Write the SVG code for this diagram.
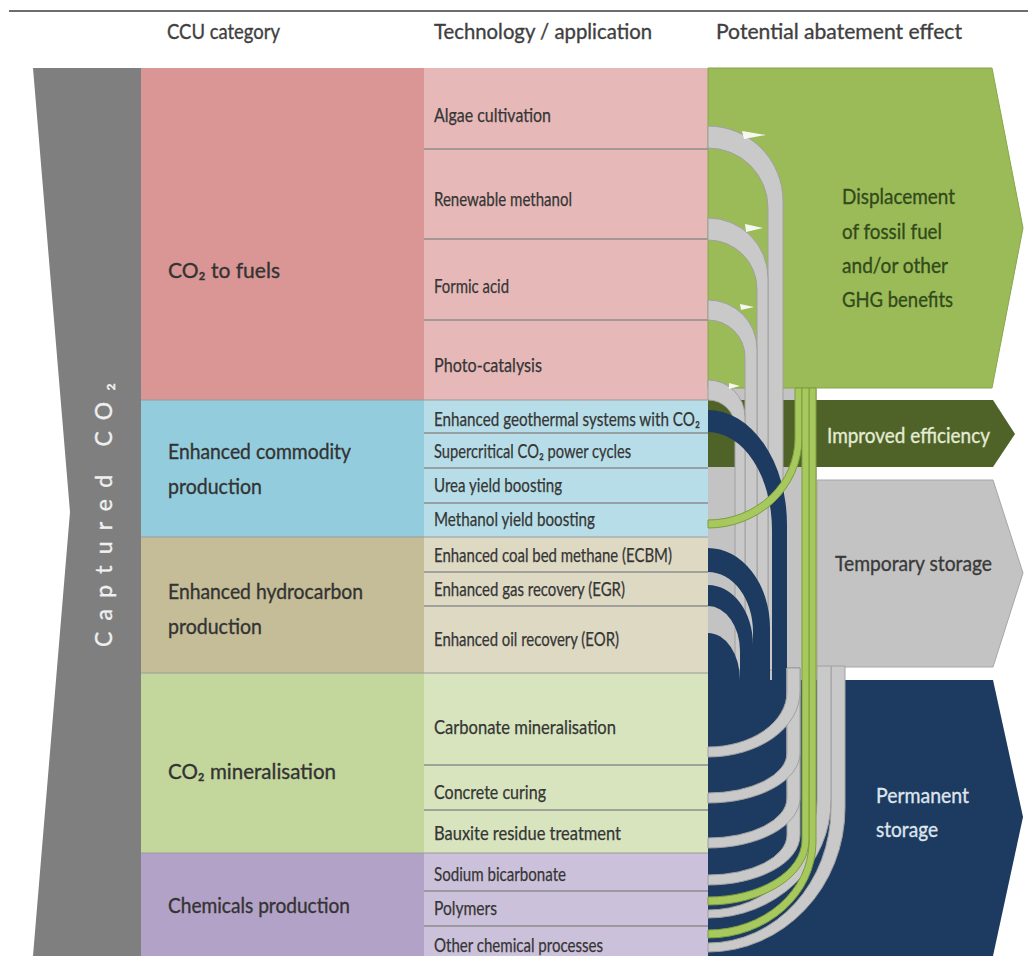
<svg xmlns="http://www.w3.org/2000/svg" width="1028" height="956" viewBox="0 0 1028 956">
  <style>
    text { font-family: Lato, "Liberation Sans", "DejaVu Sans", sans-serif; stroke-width: 0.35px; }
    .hdr { font-size: 21px; fill: #3f3f3f; stroke: #3f3f3f; }
    .cat { font-size: 22px; fill: #333333; stroke: #333333; }
    .tech { font-size: 19px; fill: #353535; stroke: #353535; stroke-width: 0.25px; }
    .out { font-size: 22px; }
    .sep { stroke: #8c8c8c; stroke-width: 1.3; }
    .catsep { stroke: #9a9a9a; stroke-width: 1; }
    .band-gray { fill: #c9c9c9; stroke: #a0a0a0; stroke-width: 1; }
    .band-navy { fill: #1d3a60; }
    .band-green { fill: #a6c85d; stroke: #7d9c3e; stroke-width: 1; }
    .glint { fill: #ffffff; opacity: 0.9; }
  </style>

  <!-- top rule -->
  <line x1="9" y1="11" x2="1028" y2="11" stroke="#3c3c3c" stroke-width="1.6"/>

  <!-- column headers -->
  <g id="headers">
    <text class="hdr" x="167" y="39" textLength="113" lengthAdjust="spacingAndGlyphs">CCU category</text>
    <text class="hdr" x="434" y="39" textLength="218" lengthAdjust="spacingAndGlyphs">Technology / application</text>
    <text class="hdr" x="716" y="39" textLength="246" lengthAdjust="spacingAndGlyphs">Potential abatement effect</text>
  </g>

  <!-- source: captured CO2 -->
  <g id="captured-co2">
    <polygon points="33,68 141,68 141,956 33,956 70,512" fill="#7f7f7f"/>
    <text transform="translate(112,647) rotate(-90)" font-size="23" fill="#f0f0f0" stroke="#f0f0f0" textLength="264" lengthAdjust="spacing">Captured CO₂</text>
  </g>

  <!-- CCU categories -->
  <g id="cat-fuels">
    <rect x="141" y="68" width="283" height="332" fill="#d99694"/>
    <text class="cat" x="168" y="278" textLength="112" lengthAdjust="spacingAndGlyphs">CO₂ to fuels</text>
  </g>
  <g id="cat-commodity">
    <rect x="141" y="400" width="283" height="137" fill="#93cddd"/>
    <text class="cat" x="168" y="459" textLength="183" lengthAdjust="spacingAndGlyphs">Enhanced commodity</text>
    <text class="cat" x="168" y="494" textLength="94" lengthAdjust="spacingAndGlyphs">production</text>
  </g>
  <g id="cat-hydrocarbon">
    <rect x="141" y="537" width="283" height="136" fill="#c4bd97"/>
    <text class="cat" x="168" y="599" textLength="195" lengthAdjust="spacingAndGlyphs">Enhanced hydrocarbon</text>
    <text class="cat" x="168" y="634" textLength="94" lengthAdjust="spacingAndGlyphs">production</text>
  </g>
  <g id="cat-mineralisation">
    <rect x="141" y="673" width="283" height="180" fill="#c3d69b"/>
    <text class="cat" x="168" y="779" textLength="168" lengthAdjust="spacingAndGlyphs">CO₂ mineralisation</text>
  </g>
  <g id="cat-chemicals">
    <rect x="141" y="853" width="283" height="103" fill="#b3a2c7"/>
    <text class="cat" x="168" y="913" textLength="182" lengthAdjust="spacingAndGlyphs">Chemicals production</text>
  </g>

  <!-- technologies / applications -->
  <g id="tech-algae">
    <rect x="424" y="68" width="284" height="81" fill="#e6b9b8"/>
    <text class="tech" x="434" y="122" textLength="117" lengthAdjust="spacingAndGlyphs">Algae cultivation</text>
  </g>
  <g id="tech-renewable-methanol">
    <rect x="424" y="149" width="284" height="90" fill="#e6b9b8"/>
    <text class="tech" x="434" y="206" textLength="138" lengthAdjust="spacingAndGlyphs">Renewable methanol</text>
  </g>
  <g id="tech-formic-acid">
    <rect x="424" y="239" width="284" height="81" fill="#e6b9b8"/>
    <text class="tech" x="434" y="293" textLength="75" lengthAdjust="spacingAndGlyphs">Formic acid</text>
  </g>
  <g id="tech-photo-catalysis">
    <rect x="424" y="320" width="284" height="80" fill="#e6b9b8"/>
    <text class="tech" x="434" y="372" textLength="108" lengthAdjust="spacingAndGlyphs">Photo-catalysis</text>
  </g>
  <g id="tech-geothermal">
    <rect x="424" y="400" width="284" height="33" fill="#b7dee8"/>
    <text class="tech" x="434" y="426" textLength="266" lengthAdjust="spacingAndGlyphs">Enhanced geothermal systems with CO₂</text>
  </g>
  <g id="tech-supercritical">
    <rect x="424" y="433" width="284" height="35" fill="#b7dee8"/>
    <text class="tech" x="434" y="458" textLength="197" lengthAdjust="spacingAndGlyphs">Supercritical CO₂ power cycles</text>
  </g>
  <g id="tech-urea">
    <rect x="424" y="468" width="284" height="35" fill="#b7dee8"/>
    <text class="tech" x="434" y="492" textLength="128" lengthAdjust="spacingAndGlyphs">Urea yield boosting</text>
  </g>
  <g id="tech-methanol-yield">
    <rect x="424" y="503" width="284" height="34" fill="#b7dee8"/>
    <text class="tech" x="434" y="526" textLength="161" lengthAdjust="spacingAndGlyphs">Methanol yield boosting</text>
  </g>
  <g id="tech-ecbm">
    <rect x="424" y="537" width="284" height="35" fill="#ddd9c3"/>
    <text class="tech" x="434" y="562" textLength="238" lengthAdjust="spacingAndGlyphs">Enhanced coal bed methane (ECBM)</text>
  </g>
  <g id="tech-egr">
    <rect x="424" y="572" width="284" height="34" fill="#ddd9c3"/>
    <text class="tech" x="434" y="596" textLength="191" lengthAdjust="spacingAndGlyphs">Enhanced gas recovery (EGR)</text>
  </g>
  <g id="tech-eor">
    <rect x="424" y="606" width="284" height="67" fill="#ddd9c3"/>
    <text class="tech" x="434" y="646" textLength="185" lengthAdjust="spacingAndGlyphs">Enhanced oil recovery (EOR)</text>
  </g>
  <g id="tech-carbonate">
    <rect x="424" y="673" width="284" height="92" fill="#d7e4bd"/>
    <text class="tech" x="434" y="734" textLength="182" lengthAdjust="spacingAndGlyphs">Carbonate mineralisation</text>
  </g>
  <g id="tech-concrete">
    <rect x="424" y="765" width="284" height="45" fill="#d7e4bd"/>
    <text class="tech" x="434" y="799" textLength="112" lengthAdjust="spacingAndGlyphs">Concrete curing</text>
  </g>
  <g id="tech-bauxite">
    <rect x="424" y="810" width="284" height="43" fill="#d7e4bd"/>
    <text class="tech" x="434" y="840" textLength="187" lengthAdjust="spacingAndGlyphs">Bauxite residue treatment</text>
  </g>
  <g id="tech-sodium-bicarbonate">
    <rect x="424" y="853" width="284" height="38" fill="#ccc1da"/>
    <text class="tech" x="434" y="881" textLength="132" lengthAdjust="spacingAndGlyphs">Sodium bicarbonate</text>
  </g>
  <g id="tech-polymers">
    <rect x="424" y="891" width="284" height="35" fill="#ccc1da"/>
    <text class="tech" x="434" y="915" textLength="63" lengthAdjust="spacingAndGlyphs">Polymers</text>
  </g>
  <g id="tech-other-chemicals">
    <rect x="424" y="926" width="284" height="30" fill="#ccc1da"/>
    <text class="tech" x="434" y="952" textLength="169" lengthAdjust="spacingAndGlyphs">Other chemical processes</text>
  </g>

  <!-- row separators -->
  <g id="separators">
    <line class="catsep" x1="141" y1="400" x2="708" y2="400"/>
    <line class="catsep" x1="141" y1="537" x2="708" y2="537"/>
    <line class="catsep" x1="141" y1="673" x2="708" y2="673"/>
    <line class="catsep" x1="141" y1="853" x2="708" y2="853"/>
    <line class="sep" x1="424" y1="149" x2="708" y2="149"/>
    <line class="sep" x1="424" y1="239" x2="708" y2="239"/>
    <line class="sep" x1="424" y1="320" x2="708" y2="320"/>
    <line class="sep" x1="424" y1="433" x2="708" y2="433"/>
    <line class="sep" x1="424" y1="468" x2="708" y2="468"/>
    <line class="sep" x1="424" y1="503" x2="722" y2="503"/>
    <line class="sep" x1="424" y1="572" x2="708" y2="572"/>
    <line class="sep" x1="424" y1="606" x2="708" y2="606"/>
    <line class="sep" x1="424" y1="765" x2="708" y2="765"/>
    <line class="sep" x1="424" y1="810" x2="708" y2="810"/>
    <line class="sep" x1="424" y1="891" x2="708" y2="891"/>
    <line class="sep" x1="424" y1="926" x2="708" y2="926"/>
  </g>

  <!-- abatement outcomes -->
  <g id="out-temporary">
    <rect x="708" y="388" width="109" height="292" fill="#c3c3c3"/>
    <polygon points="817,480 993,480 1023,573 993,667 817,667" fill="#c3c3c3" stroke="#a6a6a6" stroke-width="1"/>
    <text class="out" x="835" y="571" fill="#3a3a3a" stroke="#3a3a3a" textLength="157" lengthAdjust="spacingAndGlyphs">Temporary storage</text>
  </g>
  <g id="out-efficiency">
    <polygon points="708,400 993,400 1015,434 993,467 708,467" fill="#4f6228"/>
    <text class="out" x="827" y="443" fill="#e4ecd4" stroke="#e4ecd4" textLength="163" lengthAdjust="spacingAndGlyphs">Improved efficiency</text>
  </g>
  <g id="out-displacement">
    <polygon points="708,68 992,68 1023,228 992,388 708,388" fill="#9bbb59" stroke="#87a64a" stroke-width="1"/>
    <g class="out" fill="#324a1a" stroke="#324a1a">
      <text x="842" y="204" textLength="113" lengthAdjust="spacingAndGlyphs">Displacement</text>
      <text x="842" y="239" textLength="100" lengthAdjust="spacingAndGlyphs">of fossil fuel</text>
      <text x="842" y="273" textLength="106" lengthAdjust="spacingAndGlyphs">and/or other</text>
      <text x="842" y="307" textLength="111" lengthAdjust="spacingAndGlyphs">GHG benefits</text>
    </g>
  </g>
  <g id="out-permanent">
    <polygon points="708,680 993,680 1023,817 993,956 708,956" fill="#1d3a60"/>
    <text class="out" x="876" y="803" fill="#dfe5ee" stroke="#dfe5ee" textLength="93" lengthAdjust="spacingAndGlyphs">Permanent</text>
    <text class="out" x="876" y="837" fill="#dfe5ee" stroke="#dfe5ee" textLength="62" lengthAdjust="spacingAndGlyphs">storage</text>
  </g>

  <!-- flows from technologies to outcomes -->
  <g id="connectors">
    <!-- CO2 to fuels: temporary storage share -->
    <path class="band-gray" d="M708 126 A75 75 0 0 1 783 201 L783 670 L768 670 L768 208 A60 60 0 0 0 708 148 Z"/>
    <path class="band-gray" d="M708 218 A60 60 0 0 1 768 278 L768 670 L757 670 L757 289 A49 49 0 0 0 708 240 Z"/>
    <path class="band-gray" d="M708 300 A49 49 0 0 1 757 349 L757 670 L745 670 L745 357 A37 37 0 0 0 708 320 Z"/>
    <path class="band-gray" d="M708 380 A37 37 0 0 1 745 417 L745 670 L735 670 L735 427 A27 27 0 0 0 708 400 Z"/>
    <polygon class="glint" points="742,131 766,135 744,139"/>
    <polygon class="glint" points="745,224 763,228 746,232"/>
    <polygon class="glint" points="740,304 754,307 741,310"/>
    <polygon class="glint" points="729,383 740,386 729,389"/>

    <!-- geothermal and hydrocarbon recovery: permanent storage -->
    <path class="band-navy" d="M708 410 A79 115 0 0 1 787 525 L787 681 L772 681 L772 530 A64 98 0 0 0 708 432 Z"/>
    <path class="band-navy" d="M708 548 A62 80 0 0 1 770 628 L770 681 L753 681 L753 632 A45 60 0 0 0 708 572 Z"/>
    <path class="band-navy" d="M708 585 A45 60 0 0 1 753 645 L753 681 L740 681 L740 651 A32 45 0 0 0 708 606 Z"/>
    <path class="band-navy" d="M708 633 A32 47 0 0 1 740 680 L740 681 L708 681 Z"/>

    <!-- chemicals: temporary storage share -->
    <path class="band-gray" d="M708 943 A123 135 0 0 0 831 808 L831 666 L845 666 L845 808 A137 144 0 0 1 708 952 Z"/>
    <path class="band-gray" d="M708 910 A109 110 0 0 0 817 800 L817 666 L831 666 L831 800 A123 118 0 0 1 708 918 Z"/>

    <!-- mineralisation and sodium bicarbonate: gray share -->
    <path class="band-gray" d="M708 875 A79 40 0 0 0 787 835 L787 668 L800 668 L800 835 A92 50 0 0 1 708 885 Z"/>
    <path class="band-gray" d="M708 838 A79 40 0 0 0 787 798 L787 668 L800 668 L800 798 A92 50 0 0 1 708 848 Z"/>
    <path class="band-gray" d="M708 793 A79 40 0 0 0 787 753 L787 668 L800 668 L800 753 A92 50 0 0 1 708 803 Z"/>
    <path class="band-gray" d="M708 747 A79 55 0 0 0 787 692 L787 668 L800 668 L800 692 A92 65 0 0 1 708 757 Z"/>

    <!-- displacement share: methanol yield boosting, polymers, other chemicals -->
    <path class="band-green" d="M708 520 A87 82 0 0 0 795 438 L795 388 L802 388 L802 438 A94 90 0 0 1 708 528 Z"/>
    <path class="band-green" d="M708 930 A101 88 0 0 0 809 842 L809 388 L816 388 L816 842 A108 96 0 0 1 708 938 Z"/>
    <path class="band-green" d="M708 897 A94 57 0 0 0 802 840 L802 388 L809 388 L809 840 A101 65 0 0 1 708 905 Z"/>
  </g>
</svg>
